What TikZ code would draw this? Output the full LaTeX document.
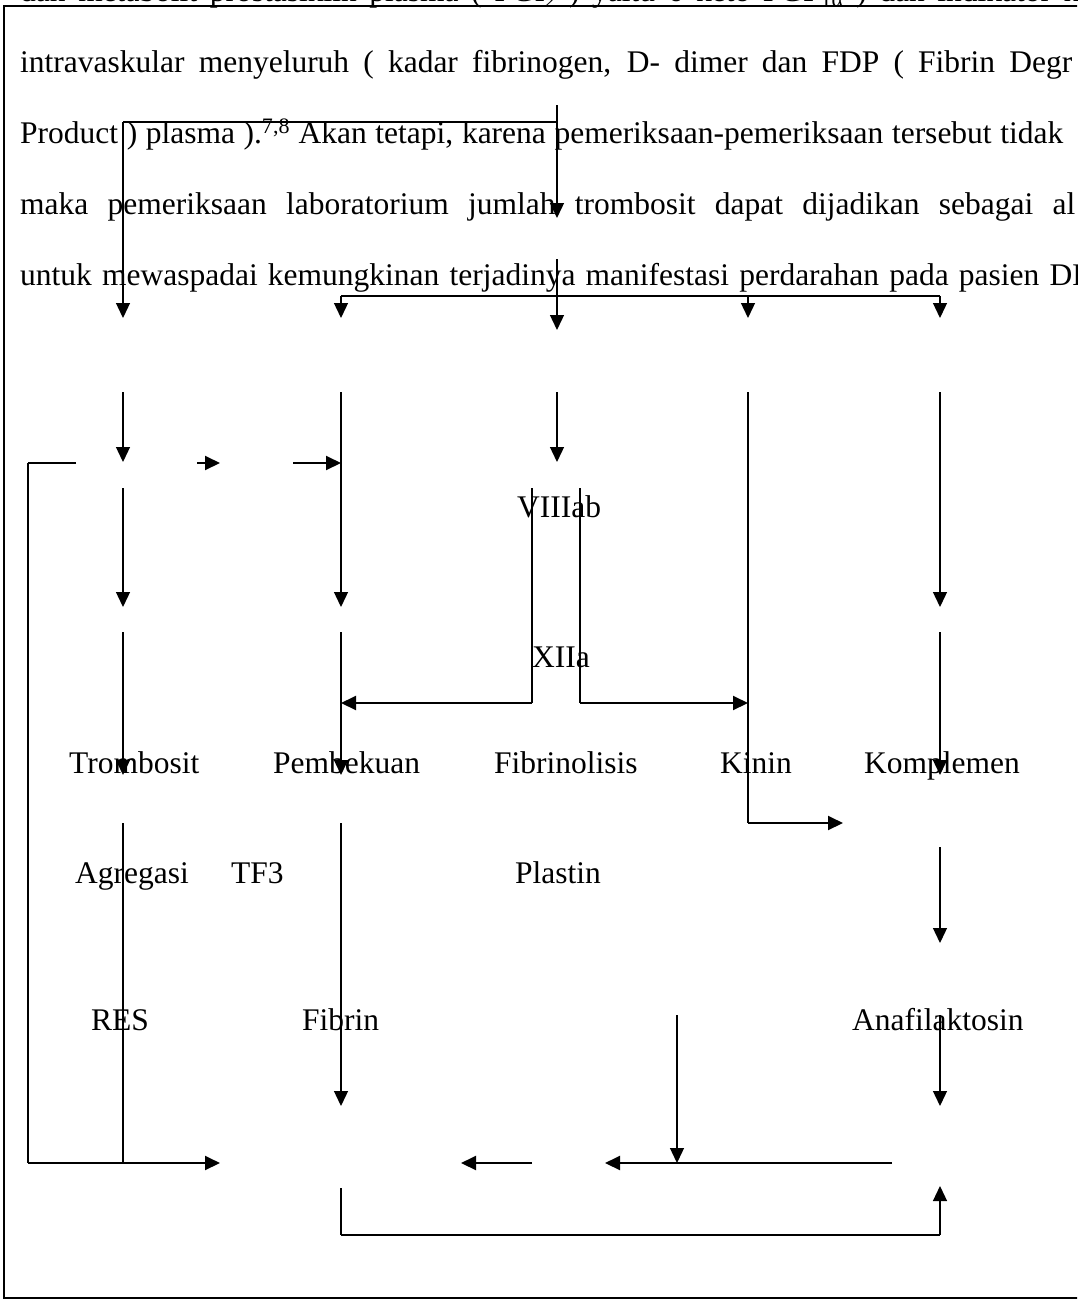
\documentclass[tikz,border=0pt]{standalone}
\usepackage{fontspec}
\setmainfont{Liberation Serif}
\usetikzlibrary{arrows.meta}
\begin{document}
\begin{tikzpicture}[x=1pt,y=-1pt,
  conn/.style={line width=1.3pt},
  hconn/.style={line width=2pt},
  arr/.style={-{Triangle[length=15pt,width=14pt]}},
  frame/.style={line width=2pt},
  lbl/.style={anchor=base west, inner sep=0pt, font=\fontsize{31.5}{36}\selectfont},
  para/.style={anchor=base west, inner sep=0pt, font=\fontsize{31.5}{36}\selectfont}]
\useasboundingbox (0,0) rectangle (1077,1302);
\clip (0,0) rectangle (1077,1302);

% frame
\draw[frame] (4,6) rectangle (1090,1298);

% paragraph text
\node[para] (p1) at (20,1) {\makebox[1075pt][s]{dan metabolit prostasiklin plasma ( PGI\textsubscript{2} ) yaitu 6 keto PGF\textsubscript{1α} ) dan indikator ko}};
\node[para] (p2) at (20,72) {\makebox[1052pt][s]{intravaskular menyeluruh ( kadar fibrinogen, D- dimer dan FDP ( Fibrin Degr}};
\node[para] (p3) at (20,143) {\makebox[1043pt][s]{Product ) plasma ).\textsuperscript{7,8} Akan tetapi, karena pemeriksaan-pemeriksaan tersebut tidak}};
\node[para] (p4) at (20,214) {\makebox[1055pt][s]{maka pemeriksaan laboratorium jumlah trombosit dapat dijadikan sebagai al}};
\node[para] (p5) at (20,285) {\makebox[1073pt][s]{untuk mewaspadai kemungkinan terjadinya manifestasi perdarahan pada pasien DB}};

% labels
\node[lbl] (trombosit) at (69,773) {Trombosit};
\node[lbl] (pembekuan) at (273,773) {Pembekuan};
\node[lbl] (fibrinolisis) at (494,773) {Fibrinolisis};
\node[lbl] (kinin) at (720,773) {Kinin};
\node[lbl] (komplemen) at (864,773) {Komplemen};
\node[lbl] (agregasi) at (75,883) {Agregasi};
\node[lbl] (tf3) at (231,883) {TF3};
\node[lbl] (plastin) at (515,883) {Plastin};
\node[lbl] (res) at (91,1030) {RES};
\node[lbl] (fibrin) at (302,1030) {Fibrin};
\node[lbl] (anafil) at (852,1030) {Anafilaktosin};
\node[lbl] (viiiab) at (517,517) {VIIIab};
\node[lbl] (xiia) at (532,667) {XIIa};

% coordinates
\coordinate (a1s) at (557,105);  \coordinate (a1e) at (557,218);
\coordinate (h1r) at (557,122);  \coordinate (h1l) at (123,122);
\coordinate (a2e) at (123,318);
\coordinate (h2l) at (341,296);  \coordinate (h2r) at (940,296);
\coordinate (h2k) at (748,296);
\coordinate (b1e) at (341,318);  \coordinate (b2e) at (748,318); \coordinate (b3e) at (940,318);
\coordinate (c1s) at (557,259);  \coordinate (c1e) at (557,330);
\coordinate (d1s) at (123,392);  \coordinate (d1e) at (123,462);
\coordinate (d2s) at (341,392);  \coordinate (d2e) at (341,607);
\coordinate (d3s) at (557,392);  \coordinate (d3e) at (557,462);
\coordinate (d4s) at (748,392);  \coordinate (d4c) at (748,823); \coordinate (d4e) at (843,823);
\coordinate (d5s) at (940,392);  \coordinate (d5e) at (940,607);
\coordinate (l1s) at (76,463);   \coordinate (l1c) at (28,463);
\coordinate (l1d) at (28,1163);  \coordinate (l1e) at (220,1163);
\coordinate (s1s) at (197,463);  \coordinate (s1e) at (220,463);
\coordinate (s2s) at (293,463);  \coordinate (s2e) at (341,463);
\coordinate (e1s) at (123,488);  \coordinate (e1e) at (123,607);
\coordinate (v1s) at (532,488);  \coordinate (v1c) at (532,703); \coordinate (v1e) at (341,703);
\coordinate (v2s) at (580,488);  \coordinate (v2c) at (580,703); \coordinate (v2e) at (748,703);
\coordinate (f1s) at (123,632);  \coordinate (f1e) at (123,775);
\coordinate (f2s) at (341,632);  \coordinate (f2e) at (341,775);
\coordinate (f3s) at (940,632);  \coordinate (f3e) at (940,775);
\coordinate (g1s) at (123,823);  \coordinate (g1e) at (123,1163);
\coordinate (g2s) at (341,823);  \coordinate (g2e) at (341,1106);
\coordinate (g3s) at (940,847);  \coordinate (g3e) at (940,943);
\coordinate (k1s) at (677,1015); \coordinate (k1e) at (677,1163);
\coordinate (k2s) at (940,1015); \coordinate (k2e) at (940,1106);
\coordinate (m1s) at (532,1163); \coordinate (m1e) at (461,1163);
\coordinate (m2s) at (892,1163); \coordinate (m2e) at (605,1163);
\coordinate (n1s) at (341,1188); \coordinate (n1c) at (341,1235);
\coordinate (n1d) at (940,1235); \coordinate (n1e) at (940,1186);

% connectors
\draw[conn,arr] (a1s) -- (a1e);
\draw[hconn] (h1r) -- (h1l);
\draw[conn,arr] (h1l) -- (a2e);
\draw[hconn] (h2l) -- (h2r);
\draw[conn,arr] (h2l) -- (b1e);
\draw[conn,arr] (h2k) -- (b2e);
\draw[conn,arr] (h2r) -- (b3e);
\draw[conn,arr] (c1s) -- (c1e);
\draw[conn,arr] (d1s) -- (d1e);
\draw[conn,arr] (d2s) -- (d2e);
\draw[conn,arr] (d3s) -- (d3e);
\draw[conn] (d4s) -- (d4c);
\draw[hconn,arr] (d4c) -- (d4e);
\draw[conn,arr] (d5s) -- (d5e);
\draw[hconn] (l1s) -- (l1c);
\draw[conn] (l1c) -- (l1d);
\draw[hconn,arr] (l1d) -- (l1e);
\draw[hconn,arr] (s1s) -- (s1e);
\draw[hconn,arr] (s2s) -- (s2e);
\draw[conn,arr] (e1s) -- (e1e);
\draw[conn] (v1s) -- (v1c);
\draw[hconn,arr] (v1c) -- (v1e);
\draw[conn] (v2s) -- (v2c);
\draw[hconn,arr] (v2c) -- (v2e);
\draw[conn,arr] (f1s) -- (f1e);
\draw[conn,arr] (f2s) -- (f2e);
\draw[conn,arr] (f3s) -- (f3e);
\draw[conn] (g1s) -- (g1e);
\draw[conn,arr] (g2s) -- (g2e);
\draw[conn,arr] (g3s) -- (g3e);
\draw[conn,arr] (k1s) -- (k1e);
\draw[conn,arr] (k2s) -- (k2e);
\draw[hconn,arr] (m1s) -- (m1e);
\draw[hconn,arr] (m2s) -- (m2e);
\draw[conn] (n1s) -- (n1c);
\draw[hconn] (n1c) -- (n1d);
\draw[conn,arr] (n1d) -- (n1e);
\end{tikzpicture}
\end{document}
